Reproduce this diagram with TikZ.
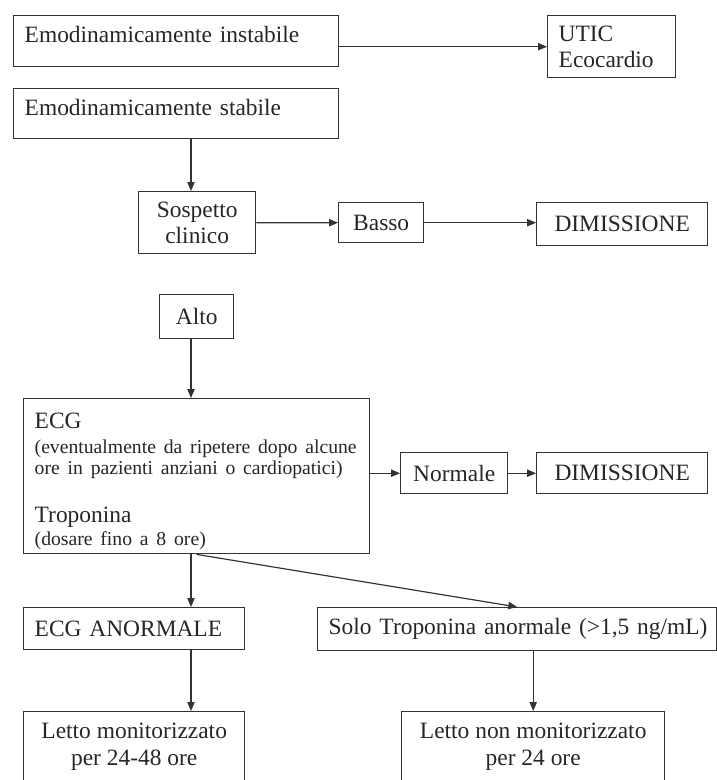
\documentclass[tikz,border=0pt]{standalone}
\usepackage{fontspec}
\setmainfont{Liberation Serif}
\usepackage{tikz}
\usetikzlibrary{arrows.meta}

\begin{document}
\begin{tikzpicture}[x=0.015cm, y=-0.015cm,
    every node/.style={font=\fontsize{10}{11.3}\selectfont, text=black!85},
    box/.style={draw=black!80, line width=0.6pt, anchor=north west, inner ysep=0pt},
    lbox/.style={box, align=left, inner xsep=0.165cm},
    cbox/.style={box, align=center, inner xsep=0pt},
    arr/.style={-{Triangle[length=1.35mm,width=1.1mm]}, draw=black!80, line width=0.5pt}]
    \useasboundingbox (0,0) rectangle (717,780);
    \coordinate (axis) at (191,0);

    \node[lbox, text width=4.545cm, minimum width=4.875cm, minimum height=0.765cm, text height=0.24cm, text depth=0.195cm] (instab) at (13,15) {Emodinamicamente instabile};
    \node[lbox, text width=1.59cm, minimum width=1.92cm, minimum height=0.93cm] (utic) at (547,15) {UTIC\\Ecocardio};
    \node[lbox, text width=4.545cm, minimum width=4.875cm, minimum height=0.75cm, text height=0.24cm, text depth=0.18cm] (stab) at (13,88) {Emodinamicamente stabile};

    \node[cbox, minimum width=1.755cm, minimum height=0.93cm] (sosp) at (138,191) {Sospetto\\clinico};
    \node[cbox, minimum width=1.275cm, minimum height=0.6cm] (basso) at (338,202) {Basso};
    \node[cbox, minimum width=2.565cm, minimum height=0.645cm] (dimA) at (536,202) {DIMISSIONE};

    \node[cbox, minimum width=1.11cm, minimum height=0.66cm] (alto) at (159,294) {Alto};

    \node[lbox, text width=4.86cm, minimum width=5.19cm, minimum height=2.325cm] (ecg) at (23,398)
        {\rule{0pt}{0.39cm}ECG\\[-0.7pt]
         \mbox{\fontsize{8.4}{9}\selectfont (eventualmente da ripetere dopo alcune}\\[-2.4pt]
         \mbox{\fontsize{8.4}{9}\selectfont ore in pazienti anziani o cardiopatici)}\\[9.5pt]
         Troponina\\[-1.5pt]
         \mbox{\fontsize{8.4}{9}\selectfont (dosare fino a 8 ore)}};
    \node[cbox, minimum width=1.605cm, minimum height=0.615cm] (norm) at (400,452) {Normale};
    \node[cbox, minimum width=2.565cm, minimum height=0.615cm] (dimB) at (536,452) {DIMISSIONE};

    \node[lbox, text width=2.985cm, minimum width=3.315cm, minimum height=0.63cm] (ecgab) at (23,607) {ECG ANORMALE};
    \node[lbox, text width=5.655cm, minimum width=5.985cm, minimum height=0.645cm] (solo) at (317,607) {\mbox{Solo Troponina anormale (>1,5 ng/mL)}};

    \node[cbox, minimum width=3.315cm, minimum height=1.05cm] (letmon) at (23,711) {Letto monitorizzato\\per 24-48 ore};
    \node[cbox, minimum width=3.945cm, minimum height=1.05cm] (letnon) at (401,711) {Letto non monitorizzato\\per 24 ore};

    \draw[arr] (instab.east |- utic.west) -- (utic.west);
    \draw[arr] (stab.south -| axis) -- (sosp.north -| axis);
    \draw[arr] (sosp.east) -- (basso.west);
    \draw[arr] (basso.east) -- (basso.east -| dimA.west);
    \draw[arr] (alto.south -| axis) -- (ecg.north -| axis);
    \draw[arr] (ecg.east |- norm.west) -- (norm.west);
    \draw[arr] (norm.east) -- (dimB.west);
    \draw[arr] (ecg.south -| axis) -- (ecgab.north -| axis);
    \draw[arr] (ecg.south) -- (solo.north);
    \draw[arr] (ecgab.south -| axis) -- (letmon.north -| axis);
    \draw[arr] (solo.south -| letnon.north) -- (letnon.north);
\end{tikzpicture}
\end{document}
